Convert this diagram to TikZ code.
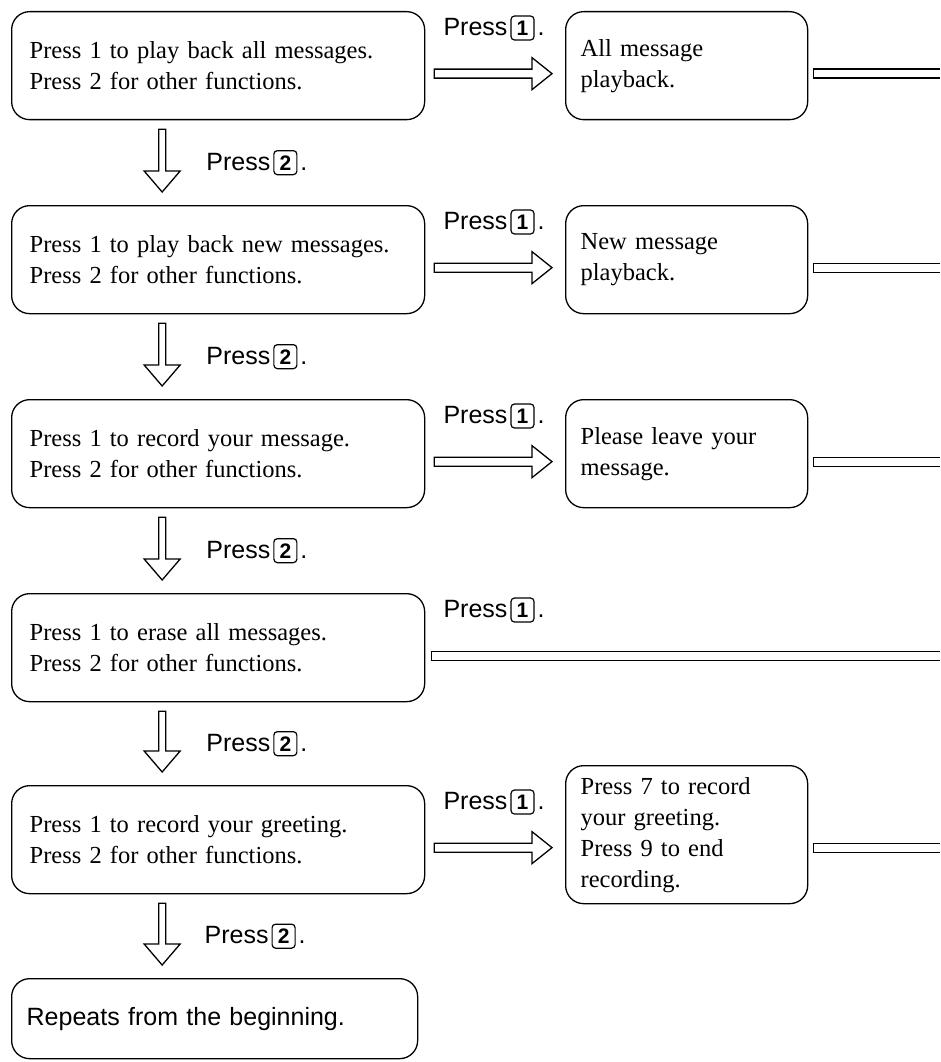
\documentclass[tikz,border=0pt]{standalone}
\usepackage{fontspec}
\setmainfont{Liberation Serif}
\setsansfont{Liberation Sans}
\usetikzlibrary{calc}

\newcommand{\keycap}[1]{\tikz[baseline]\node[anchor=base,draw,line width=1.2pt,rounded corners=3.5pt,inner sep=0pt,minimum width=23pt,minimum height=24pt,text height=15pt,text depth=0pt,font=\sffamily\bfseries\fontsize{21}{24}\selectfont] {#1};}

\begin{document}
\begin{tikzpicture}[x=1pt,y=-1pt,
    menu/.style={draw, line width=1.3pt, rounded corners=18pt, anchor=north west,
        text width=377pt, inner xsep=18pt, minimum height=108pt, align=left,
        font=\fontsize{24.5}{31}\selectfont},
    reply/.style={draw, line width=1.3pt, rounded corners=18pt, anchor=north west,
        text width=212pt, inner xsep=15pt, minimum height=108pt, align=left,
        font=\fontsize{24.5}{31}\selectfont},
    lab/.style={inner sep=0pt, anchor=west, font=\sffamily\fontsize{25}{30}\selectfont},
    blockR/.style={draw, line width=1.3pt, to path={let \p1=(\tikztostart), \p2=(\tikztotarget) in
        (\x1,\y1+4.5pt) -- (\x2-20pt,\y1+4.5pt) -- (\x2-20pt,\y1+16pt) -- (\x2,\y1)
        -- (\x2-20pt,\y1-16pt) -- (\x2-20pt,\y1-4.5pt) -- (\x1,\y1-4.5pt) -- cycle}},
    blockD/.style={draw, line width=1.3pt, to path={let \p1=(\tikztostart), \p2=(\tikztotarget) in
        (\x1-3.5pt,\y1) -- (\x1-3.5pt,\y2+21pt) -- (\x1-18pt,\y2+21pt) -- (\x1,\y2)
        -- (\x1+18pt,\y2+21pt) -- (\x1+3.5pt,\y2+21pt) -- (\x1+3.5pt,\y1) -- cycle}},
    exitR/.style={draw, line width=1.3pt, to path={let \p1=(\tikztostart), \p2=(\tikztotarget) in
        (\x2,\y1+4.5pt) -- (\x1,\y1+4.5pt) -- (\x1,\y1-4.5pt) -- (\x2,\y1-4.5pt)}}]
    \useasboundingbox (0,0) rectangle (940,1062);

    % menu prompts
    \node[menu] (m1) at (11,11) {Press 1 to play back all messages.\\Press 2 for other functions.};
    \node[menu] (m2) at (11,205) {Press 1 to play back new messages.\\Press 2 for other functions.};
    \node[menu] (m3) at (11,399) {Press 1 to record your message.\\Press 2 for other functions.};
    \node[menu] (m4) at (11,593) {Press 1 to erase all messages.\\Press 2 for other functions.};
    \node[menu] (m5) at (11,785) {Press 1 to record your greeting.\\Press 2 for other functions.};
    \node[menu, text width=376pt, inner xsep=15pt, minimum height=80pt,
        font=\sffamily\fontsize{25}{30}\selectfont] (m6) at (11,978) {Repeats from the beginning.};

    % what happens on 1
    \node[reply] (r1) at (565,11) {All message\\playback.};
    \node[reply] (r2) at (565,205) {New message\\playback.};
    \node[reply] (r3) at (565,399) {Please leave your\\message.};
    \node[reply, minimum height=138pt] (r5) at (565,765) {Press 7 to record\\your greeting.\\Press 9 to end\\recording.};

    \coordinate (rim) at (940,0);
    \coordinate (a1) at ([xshift=9pt,yshift=-8pt]m1.east);
    \coordinate (a2) at ([xshift=9pt,yshift=-8pt]m2.east);
    \coordinate (a3) at ([xshift=9pt,yshift=-8pt]m3.east);
    \coordinate (a4) at ([xshift=6pt,yshift=-8pt]m4.east);
    \coordinate (a5) at ([xshift=9pt,yshift=-8pt]m5.east);

    \draw[blockR] (a1) to ([xshift=-13pt]r1.west);
    \draw[blockR] (a2) to ([xshift=-13pt]r2.west);
    \draw[blockR] (a3) to ([xshift=-13pt]r3.west);
    \draw[blockR] (a5) to ([xshift=-13pt]r5.west);

    \draw[exitR] ($(r1.east |- a1)+(5,0)$) to (rim);
    \draw[exitR] ($(r2.east |- a2)+(5,0)$) to (rim);
    \draw[exitR] ($(r3.east |- a3)+(5,0)$) to (rim);
    \draw[exitR] (a4) to (rim);
    \draw[exitR] ($(r5.east |- a5)+(5,0)$) to (rim);

    \node[lab] (p1) at ([xshift=18pt,yshift=-17pt]m1.north east) {Press\hspace{3pt}\keycap{1}\hspace{3pt}.};
    \node[lab] (p2) at ([xshift=18pt,yshift=-17pt]m2.north east) {Press\hspace{3pt}\keycap{1}\hspace{3pt}.};
    \node[lab] (p3) at ([xshift=18pt,yshift=-17pt]m3.north east) {Press\hspace{3pt}\keycap{1}\hspace{3pt}.};
    \node[lab] (p4) at ([xshift=18pt,yshift=-17pt]m4.north east) {Press\hspace{3pt}\keycap{1}\hspace{3pt}.};
    \node[lab] (p5) at ([xshift=18pt,yshift=-17pt]m5.north east) {Press\hspace{3pt}\keycap{1}\hspace{3pt}.};

    % going down on 2
    \draw[blockD] ([xshift=-56pt,yshift=-9pt]m1.south) to ([yshift=13pt]m2.north);
    \draw[blockD] ([xshift=-56pt,yshift=-9pt]m2.south) to ([yshift=13pt]m3.north);
    \draw[blockD] ([xshift=-56pt,yshift=-9pt]m3.south) to ([yshift=13pt]m4.north);
    \draw[blockD] ([xshift=-56pt,yshift=-9pt]m4.south) to ([yshift=13pt]m5.north);
    \draw[blockD] ([xshift=-56pt,yshift=-9pt]m5.south) to ([yshift=13pt]m6.north);

    \node[lab] (q1) at ($(m1.south)!.5!(m2.north)+(-12,0)$) {Press\hspace{3pt}\keycap{2}\hspace{3pt}.};
    \node[lab] (q2) at ($(m2.south)!.5!(m3.north)+(-12,0)$) {Press\hspace{3pt}\keycap{2}\hspace{3pt}.};
    \node[lab] (q3) at ($(m3.south)!.5!(m4.north)+(-12,0)$) {Press\hspace{3pt}\keycap{2}\hspace{3pt}.};
    \node[lab] (q4) at ($(m4.south)!.5!(m5.north)+(-12,0)$) {Press\hspace{3pt}\keycap{2}\hspace{3pt}.};
    \node[lab] (q5) at ($(m5.south)!.5!(m6.north)+(-12,0)$) {Press\hspace{3pt}\keycap{2}\hspace{3pt}.};
\end{tikzpicture}
\end{document}
